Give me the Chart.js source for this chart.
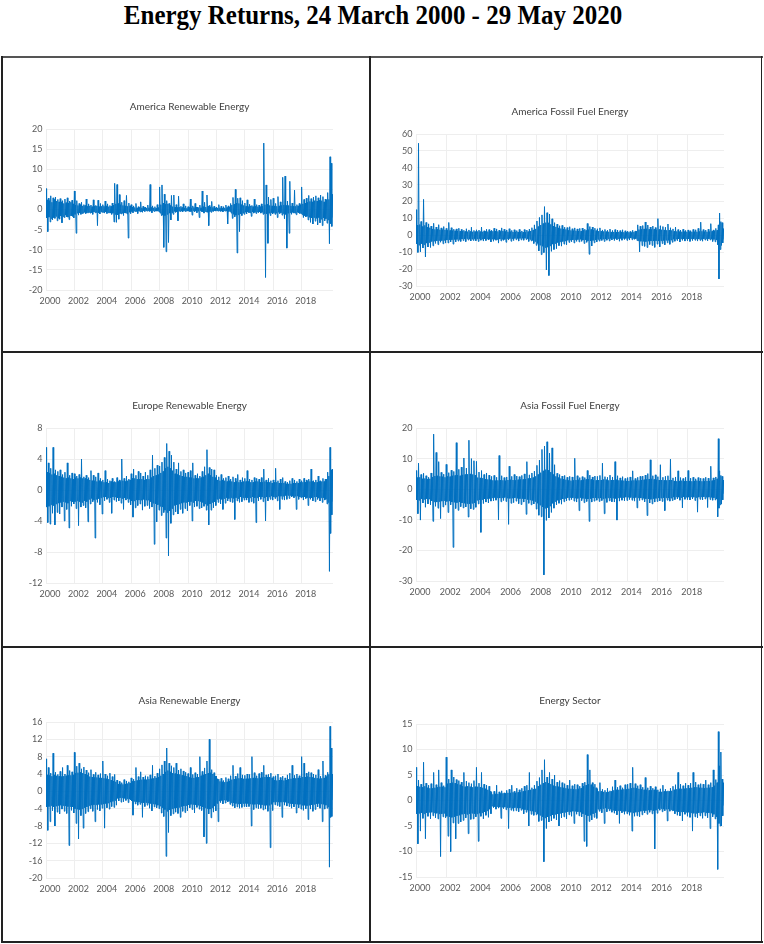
<!DOCTYPE html>
<html><head><meta charset="utf-8">
<script src="https://cdn.jsdelivr.net/npm/chart.js@4"></script>
<style>
html,body{margin:0;padding:0;background:#fff;}
body{width:764px;height:944px;position:relative;overflow:hidden;}
#mainTitle{position:absolute;left:0;top:0;width:746px;text-align:center;font-family:'Liberation Serif','Times New Roman',serif;font-weight:bold;font-size:27px;line-height:30px;color:#000;transform:scaleX(0.925);transform-origin:373px 0;white-space:nowrap;}
.panel{position:absolute;}
.panel canvas{display:block;}
.ln{position:absolute;background:#222;}
</style></head><body>
<div id="mainTitle">Energy Returns, 24 March 2000 - 29 May 2020</div>
<div class="panel" style="left:2px;top:57px"><canvas id="c1" width="368" height="295"></canvas></div>
<div class="panel" style="left:370px;top:57px"><canvas id="c2" width="392" height="295"></canvas></div>
<div class="panel" style="left:2px;top:352px"><canvas id="c3" width="368" height="295"></canvas></div>
<div class="panel" style="left:370px;top:352px"><canvas id="c4" width="392" height="295"></canvas></div>
<div class="panel" style="left:2px;top:647px"><canvas id="c5" width="368" height="295"></canvas></div>
<div class="panel" style="left:370px;top:647px"><canvas id="c6" width="392" height="295"></canvas></div>
<div class="ln" style="left:1px;top:56px;width:762px;height:1.5px;background:#555"></div>
<div class="ln" style="left:1px;top:56px;width:1.5px;height:887px"></div>
<div class="ln" style="left:760.5px;top:56px;width:1.5px;height:887px"></div>
<div class="ln" style="left:1px;top:941px;width:762px;height:1.5px"></div>
<div class="ln" style="left:369px;top:56px;width:1.5px;height:887px"></div>
<div class="ln" style="left:1px;top:351px;width:762px;height:1.5px"></div>
<div class="ln" style="left:1px;top:646px;width:762px;height:1.5px"></div>
<script>
// x axis: years since 24 March 2000, tick labels every two years
const yearTickValues = [0,2,4,6,8,10,12,14,16,18];
const yearLabels = ['2000','2002','2004','2006','2008','2010','2012','2014','2016','2018'];

// Returns (%): about 24 alternating high/low values per year
const americaRenewable = [
5.2,-2.1,2.4,-5.5,2.8,-1.9,2.2,-3.1,3.4,-2.3,1.8,-2.6,2.9,-2.0,2.5,-2.2,3.1,-1.7,2.1,-2.8,2.5,-2.2,1.9,-2.4,
2.7,-1.6,1.9,-3.3,2.2,-1.8,1.5,-2.0,2.6,-1.4,1.7,-1.8,2.9,-1.9,1.6,-2.5,2.1,-1.5,1.8,-1.6,2.3,-1.7,1.4,-2.1,
4.6,-1.2,1.1,-5.9,2.2,-0.9,1.0,-1.4,1.5,-0.8,1.2,-1.2,1.8,-1.0,0.9,-0.9,1.2,-0.7,1.0,-1.0,2.6,-0.9,0.8,-0.8,
1.4,-0.7,0.9,-0.9,1.1,-0.8,0.7,-1.2,2.4,-0.6,0.8,-0.8,1.0,-0.7,0.9,-4.0,2.3,-0.8,0.7,-1.1,1.5,-0.6,0.8,-0.7,
1.2,-0.7,0.8,-0.9,2.1,-0.6,0.9,-1.0,1.4,-0.8,0.7,-0.8,1.0,-0.9,0.8,-1.2,1.6,-0.9,1.1,-3.1,6.5,-1.2,1.4,-3.2,
6.2,-1.3,1.5,-2.4,3.7,-1.0,1.2,-1.1,1.8,-0.9,1.0,-1.5,2.2,-0.8,0.9,-0.9,3.5,-1.1,0.8,-7.1,1.6,-0.7,0.9,-1.0,
1.2,-0.5,0.6,-0.8,0.9,-0.4,0.5,-0.5,1.5,-0.5,0.4,-1.0,0.7,-0.4,0.5,-0.6,1.9,-0.5,0.4,-0.7,0.8,-0.3,0.5,-0.5,
0.6,-0.3,0.4,-0.4,1.1,-0.3,0.4,-0.5,6.2,-0.4,0.5,-0.8,0.9,-0.3,0.4,-0.5,0.7,-0.4,0.3,-0.4,1.2,-0.4,0.5,-0.6,
5.6,-0.9,1.2,-1.5,6.1,-1.4,1.6,-9.4,3.8,-1.5,1.3,-10.5,2.2,-1.2,1.4,-8.2,1.5,-0.9,1.0,-2.6,3.5,-0.8,0.7,-1.2,
3.6,-0.5,0.6,-0.7,1.2,-0.6,0.5,-2.8,3.3,-0.4,0.6,-0.5,0.8,-0.4,0.5,-0.6,1.4,-0.3,0.4,-0.5,0.9,-0.4,0.3,-0.4,
0.7,-0.4,0.5,-0.5,2.6,-0.5,0.4,-1.4,0.9,-0.3,0.5,-0.6,1.5,-0.4,0.6,-0.8,0.6,-0.4,0.5,-2.0,1.1,-0.3,0.4,-0.5,
4.6,-0.6,0.7,-0.9,1.8,-0.5,0.6,-0.6,3.6,-0.7,0.8,-4.0,1.0,-0.5,0.6,-0.7,2.0,-0.4,0.5,-0.5,0.8,-0.3,0.4,-0.4,
0.6,-0.3,0.4,-0.4,1.2,-0.3,0.4,-0.5,0.8,-0.4,0.3,-0.6,0.7,-0.3,0.4,-0.4,1.1,-0.4,0.5,-3.6,0.9,-0.5,0.6,-0.5,
1.5,-0.9,1.1,-2.2,3.0,-1.2,1.3,-1.8,5.0,-1.4,1.6,-10.8,2.8,-1.3,1.5,-5.5,2.9,-1.1,1.2,-1.5,2.2,-0.9,1.0,-1.2,
1.6,-0.7,0.8,-1.1,2.4,-0.6,0.7,-0.8,1.3,-0.8,0.9,-1.7,1.0,-0.6,0.7,-0.9,2.6,-0.7,0.8,-1.0,1.2,-0.6,0.7,-0.8,
1.1,-0.6,0.7,-0.9,1.4,-0.7,0.8,-1.2,16.5,-1.0,1.2,-16.9,6.1,-1.1,1.3,-8.4,3.1,-0.9,1.0,-1.5,2.5,-0.8,0.9,-1.1,
2.8,-0.8,0.9,-1.2,1.5,-0.9,0.8,-2.0,3.2,-0.7,0.9,-1.0,1.9,-0.8,1.0,-1.4,8.0,-1.0,1.1,-2.3,8.3,-1.2,1.0,-9.6,
2.1,-0.9,1.0,-5.9,7.0,-0.8,0.9,-1.2,1.6,-0.7,0.8,-0.9,4.8,-0.9,0.8,-1.3,1.2,-0.7,0.9,-0.8,1.5,-1.0,1.2,-1.0,
5.6,-1.3,1.4,-2.0,2.5,-1.5,1.6,-1.8,2.8,-1.7,1.8,-2.6,3.5,-1.9,2.0,-3.2,2.7,-2.1,1.9,-3.6,3.1,-2.0,2.2,-2.9,
3.4,-2.2,2.1,-3.8,2.9,-2.0,2.3,-3.3,3.6,-2.4,2.2,-4.0,3.2,-2.1,1.9,-2.8,2.6,-2.3,2.4,-3.4,4.2,-2.6,2.5,-8.5,
13.1,-3.5,11.5,-4.2,3.8,-2.0];

const americaFossil = [
15.2,-5.1,6.0,-10.1,54.5,-5.8,6.4,-9.8,8.2,-4.9,5.2,-7.5,21.3,-5.5,5.9,-12.8,7.6,-4.6,4.8,-6.9,6.8,-4.2,4.5,-7.2,
5.5,-3.6,3.8,-6.2,7.1,-3.4,3.5,-4.8,4.9,-3.2,3.6,-5.5,6.3,-3.0,3.3,-4.1,4.4,-3.1,3.4,-5.0,5.2,-2.9,3.2,-4.6,
4.1,-2.8,3.0,-4.5,7.6,-2.7,2.9,-3.8,4.5,-2.6,2.8,-5.2,3.6,-2.5,2.7,-3.9,3.8,-2.4,2.6,-3.4,4.2,-2.5,2.5,-3.6,
3.5,-2.2,2.4,-3.1,3.0,-2.1,2.3,-3.7,3.9,-2.0,2.2,-2.8,3.2,-2.1,2.3,-3.3,4.8,-2.2,2.1,-3.0,2.9,-2.0,2.2,-3.2,
3.3,-2.1,2.3,-3.6,3.1,-2.0,2.2,-2.9,4.9,-2.2,2.1,-3.4,2.7,-2.0,2.3,-3.1,3.6,-2.1,2.2,-2.8,3.4,-2.3,2.4,-3.9,
3.0,-2.2,2.4,-3.5,4.2,-2.3,2.5,-2.9,3.8,-2.4,2.3,-4.6,3.1,-2.2,2.4,-3.3,4.4,-2.3,2.5,-3.0,3.6,-2.4,2.3,-4.1,
3.2,-2.0,2.1,-2.8,3.9,-1.9,2.2,-3.5,2.9,-2.0,2.0,-3.1,3.3,-1.8,2.1,-2.6,2.8,-1.9,2.0,-3.4,3.5,-1.8,1.9,-2.7,
2.6,-1.8,1.9,-2.9,3.4,-1.7,1.8,-2.5,3.1,-2.0,2.2,-3.6,3.7,-2.4,2.6,-3.3,4.5,-3.0,3.2,-4.8,6.2,-3.6,3.8,-5.9,
8.5,-4.8,5.2,-9.2,10.6,-5.8,6.1,-11.4,12.1,-6.5,7.0,-10.2,17.0,-7.2,7.5,-20.5,13.4,-7.0,7.4,-23.8,12.6,-6.2,6.5,-9.5,
9.8,-5.2,5.5,-8.4,7.5,-4.8,5.0,-7.9,6.6,-4.2,4.4,-6.1,5.7,-3.8,4.0,-6.4,5.9,-3.6,3.8,-5.2,4.8,-3.3,3.5,-5.6,
4.6,-2.9,3.0,-4.2,5.1,-2.8,2.9,-3.8,3.9,-2.7,2.8,-4.5,4.4,-2.6,2.7,-3.6,3.8,-2.5,2.6,-3.9,4.1,-2.4,2.5,-3.5,
4.3,-2.8,3.0,-4.8,3.6,-2.7,2.9,-4.1,7.0,-3.2,3.4,-11.2,5.2,-3.3,3.5,-6.3,4.9,-3.0,3.1,-4.4,4.2,-2.7,2.8,-3.8,
3.9,-2.4,2.5,-3.4,4.4,-2.3,2.4,-3.0,3.2,-2.2,2.3,-3.6,3.5,-2.1,2.2,-2.9,3.0,-2.0,2.1,-3.3,3.7,-1.9,2.0,-2.7,
2.9,-1.9,2.0,-3.1,3.4,-1.8,1.9,-2.6,3.1,-1.9,2.0,-3.5,2.8,-1.8,1.9,-2.9,3.3,-1.7,1.8,-2.5,2.7,-1.8,1.9,-3.0,
2.5,-1.7,1.8,-2.8,2.3,-1.6,1.7,-2.6,3.0,-1.8,1.9,-2.4,2.6,-2.0,2.4,-3.1,6.2,-3.2,3.4,-9.8,5.4,-3.5,3.6,-6.1,
5.8,-3.6,3.8,-6.5,7.9,-3.7,3.9,-7.2,6.1,-3.5,3.6,-5.4,4.9,-3.3,3.5,-6.0,5.5,-3.4,3.6,-7.1,4.6,-3.2,3.3,-5.2,
9.9,-3.4,3.5,-6.8,5.7,-3.2,3.3,-4.9,5.2,-3.1,3.2,-5.6,4.8,-2.9,3.0,-4.4,6.7,-3.0,3.1,-5.3,4.5,-2.8,2.9,-4.1,
3.8,-2.3,2.4,-3.5,4.9,-2.2,2.3,-3.2,3.4,-2.1,2.2,-3.9,3.1,-2.0,2.1,-3.0,3.6,-2.1,2.2,-3.4,2.9,-2.0,2.1,-3.2,
3.2,-2.1,2.2,-3.6,2.8,-2.0,2.1,-3.1,3.5,-2.1,2.2,-2.9,3.3,-2.0,2.1,-3.4,4.1,-2.2,2.3,-3.0,7.8,-2.3,2.4,-3.5,
3.4,-2.1,2.2,-2.8,3.1,-2.0,2.1,-3.3,3.6,-2.1,2.2,-2.7,6.9,-2.3,2.4,-3.6,3.2,-2.4,2.6,-3.8,4.1,-2.8,3.0,-5.5,
6.2,-25.8,13.2,-8.4,8.1,-6.0,7.5,-4.5,4.0,-2.5];

const europeRenewable = [
5.5,-2.2,2.3,-4.2,3.5,-2.1,2.2,-4.4,2.8,-1.9,2.0,-3.0,5.5,-2.0,2.1,-4.5,2.6,-1.8,1.9,-2.9,2.4,-1.7,1.8,-3.1,
2.6,-1.6,1.7,-2.2,2.0,-1.5,1.6,-4.0,2.3,-1.6,1.5,-2.5,3.5,-1.7,1.6,-4.9,1.9,-1.4,1.5,-2.1,2.2,-1.5,1.4,-1.8,
2.1,-1.5,1.6,-2.4,1.8,-1.4,1.5,-4.6,2.0,-1.5,1.6,-2.2,4.0,-1.6,1.5,-2.0,1.7,-1.4,1.5,-2.3,1.9,-1.5,1.4,-4.1,
1.6,-1.2,1.3,-1.8,2.5,-1.1,1.2,-1.5,1.9,-1.3,1.2,-6.2,1.7,-1.2,1.1,-1.6,2.2,-1.1,1.2,-1.9,1.5,-1.0,1.1,-3.1,
1.3,-0.9,1.0,-1.4,2.5,-0.9,1.0,-1.2,1.4,-1.0,0.9,-1.6,1.2,-1.0,1.1,-3.0,1.5,-0.9,1.0,-1.3,1.1,-0.9,1.0,-1.5,
1.6,-1.0,1.1,-1.4,1.3,-1.0,1.1,-1.7,4.0,-1.1,1.2,-2.5,1.5,-1.0,1.1,-1.3,1.8,-1.1,1.2,-1.6,1.4,-1.2,1.3,-1.9,
2.1,-1.4,1.5,-3.5,2.7,-1.4,1.5,-2.3,1.9,-1.3,1.4,-2.0,2.4,-1.3,1.4,-1.8,2.2,-1.3,1.4,-2.6,1.8,-1.2,1.3,-2.1,
2.3,-1.3,1.4,-2.0,1.9,-1.3,1.4,-2.4,2.6,-1.5,1.6,-2.2,4.5,-1.7,1.8,-7.0,2.8,-1.8,1.9,-4.1,3.2,-1.9,2.0,-2.6,
3.1,-2.1,2.2,-3.3,3.6,-2.2,2.4,-2.9,4.2,-2.6,2.8,-6.2,6.0,-2.9,3.0,-8.5,5.0,-2.7,2.8,-4.3,4.5,-2.4,2.5,-3.2,
3.6,-2.0,2.1,-2.8,2.7,-1.9,2.0,-3.1,3.5,-1.8,1.9,-2.5,2.4,-1.7,1.8,-3.0,2.6,-1.6,1.7,-2.4,2.2,-1.6,1.7,-2.7,
2.3,-1.5,1.6,-2.0,2.5,-1.5,1.6,-4.0,3.5,-1.6,1.5,-2.2,1.9,-1.4,1.5,-2.1,2.1,-1.4,1.5,-2.4,1.8,-1.5,1.6,-2.3,
2.4,-1.6,1.7,-2.1,3.0,-1.8,1.9,-2.6,5.2,-2.0,2.1,-4.5,2.9,-1.8,1.9,-2.6,2.7,-1.6,1.7,-2.3,2.6,-1.5,1.6,-2.0,
1.9,-1.2,1.3,-1.6,1.7,-1.1,1.2,-1.8,2.0,-1.2,1.3,-2.5,1.5,-1.1,1.2,-1.7,1.6,-1.0,1.1,-1.4,1.8,-1.1,1.2,-1.5,
1.4,-1.0,1.1,-1.6,1.7,-1.1,1.0,-3.8,1.5,-1.0,1.1,-1.4,2.0,-1.1,1.0,-1.6,1.3,-0.9,1.0,-1.5,1.6,-1.0,1.1,-1.3,
1.5,-1.0,1.1,-1.3,2.5,-1.0,1.1,-1.6,1.4,-1.0,1.0,-1.5,1.3,-0.9,1.0,-1.7,1.6,-1.0,1.1,-4.2,1.5,-1.0,1.1,-1.4,
1.4,-0.9,1.0,-1.2,1.6,-0.9,1.0,-1.5,2.7,-1.0,1.1,-4.0,1.3,-0.9,1.0,-1.4,1.5,-0.9,1.0,-1.2,1.2,-0.8,0.9,-1.3,
1.3,-0.9,1.0,-1.1,2.8,-0.9,1.0,-1.4,1.2,-0.8,0.9,-2.5,1.4,-0.8,0.9,-1.2,1.6,-0.8,0.9,-1.3,1.1,-0.7,0.8,-1.2,
1.0,-0.7,0.8,-1.1,1.2,-0.7,0.8,-0.9,1.5,-0.8,0.9,-1.0,1.3,-0.8,0.9,-2.5,1.1,-0.8,0.9,-1.2,1.4,-0.9,1.0,-1.0,
1.2,-0.9,1.0,-1.3,1.5,-0.9,1.0,-1.1,1.3,-1.0,1.1,-2.0,1.4,-1.0,1.1,-1.2,2.7,-1.0,1.1,-1.4,1.2,-0.9,1.0,-1.5,
1.3,-0.9,1.0,-1.2,1.8,-1.0,1.1,-1.4,1.2,-1.0,1.1,-1.6,1.5,-1.0,1.1,-1.3,1.4,-1.2,1.4,-1.8,2.3,-1.6,1.8,-10.5,
5.5,-5.6,2.6,-3.2,2.7,-1.5];

const asiaFossil = [
6.1,-3.5,3.8,-8.0,8.5,-3.6,3.9,-10.1,4.8,-3.2,3.4,-4.5,5.2,-3.3,3.5,-5.9,4.4,-3.1,3.3,-4.8,3.9,-3.2,3.4,-5.1,
5.3,-3.8,4.0,-10.5,18.0,-4.1,4.3,-5.6,12.0,-4.2,4.4,-6.2,9.0,-4.0,4.2,-9.6,5.5,-3.9,4.1,-5.8,4.9,-3.7,3.9,-5.2,
8.1,-4.0,4.2,-7.6,5.4,-3.9,4.1,-5.1,6.2,-4.2,4.4,-19.0,5.8,-4.3,4.5,-6.3,15.2,-4.4,4.6,-6.9,6.5,-4.2,4.4,-5.7,
7.2,-4.5,4.7,-6.1,10.2,-4.6,4.8,-5.8,6.9,-4.7,4.9,-9.1,16.0,-4.8,5.0,-6.4,10.0,-4.6,4.8,-6.6,9.3,-4.5,4.6,-5.9,
9.1,-3.6,3.8,-4.8,5.6,-3.5,3.7,-14.1,6.1,-3.4,3.6,-4.7,4.8,-3.2,3.3,-4.2,5.3,-3.1,3.2,-4.5,4.6,-3.0,3.1,-3.9,
4.2,-2.8,2.9,-3.8,4.5,-2.7,2.8,-3.6,3.9,-2.8,2.9,-10.0,11.0,-2.9,3.0,-4.1,4.4,-2.8,2.9,-3.7,3.8,-2.7,2.8,-4.0,
4.0,-2.9,3.0,-11.5,7.5,-3.0,3.1,-4.6,4.2,-2.9,3.0,-4.4,4.8,-2.8,2.9,-3.9,4.3,-3.0,3.1,-4.7,4.1,-3.1,3.2,-5.0,
4.5,-3.1,3.2,-4.2,5.0,-3.2,3.3,-8.2,9.0,-3.4,3.5,-4.6,4.7,-3.5,3.6,-5.1,5.3,-3.7,3.8,-4.8,5.9,-4.0,4.2,-6.5,
7.8,-4.6,4.8,-8.5,9.5,-5.2,5.4,-9.0,13.0,-5.8,6.0,-28.0,14.1,-6.2,6.4,-10.2,15.5,-6.0,6.2,-9.4,11.8,-5.5,5.6,-7.6,
13.5,-4.6,4.8,-6.2,8.0,-4.0,4.2,-5.1,5.2,-3.6,3.8,-4.6,4.8,-3.4,3.5,-4.9,4.3,-3.2,3.3,-4.1,4.5,-3.0,3.1,-3.8,
3.9,-2.8,2.9,-3.6,4.2,-2.7,2.8,-3.4,4.0,-2.8,2.9,-3.9,10.1,-2.9,3.0,-4.2,4.4,-3.0,3.1,-7.0,3.8,-2.8,2.9,-3.7,
4.1,-3.0,3.1,-4.4,3.8,-3.1,3.2,-4.0,6.1,-3.2,3.3,-10.5,4.6,-3.1,3.2,-4.2,4.0,-2.9,3.0,-3.9,4.3,-2.8,2.9,-3.6,
4.2,-2.9,3.0,-4.0,4.5,-2.9,3.0,-3.7,8.5,-3.1,3.2,-8.0,4.1,-3.0,3.1,-4.3,3.9,-2.8,2.9,-3.8,4.6,-2.9,3.0,-4.1,
4.0,-2.9,3.0,-4.2,9.0,-3.0,3.1,-10.1,4.4,-2.8,2.9,-3.9,3.7,-2.7,2.8,-3.6,4.1,-2.7,2.8,-3.8,3.5,-2.6,2.7,-3.7,
3.8,-2.6,2.7,-3.4,4.0,-2.7,2.8,-3.6,6.0,-2.8,2.9,-3.9,3.5,-2.7,2.8,-6.1,3.9,-2.8,2.9,-3.7,4.2,-2.9,3.0,-3.5,
4.3,-3.0,3.1,-4.1,4.6,-3.1,3.2,-8.6,5.1,-3.2,3.3,-4.5,9.6,-3.3,3.4,-4.8,4.4,-3.1,3.2,-4.2,4.7,-3.0,3.1,-4.0,
4.1,-2.9,3.0,-3.8,8.0,-2.9,3.0,-4.0,3.9,-2.8,2.9,-7.0,4.2,-2.8,2.9,-3.6,4.4,-2.9,3.0,-3.9,9.8,-2.9,3.0,-3.7,
3.7,-2.6,2.7,-3.4,4.0,-2.5,2.6,-3.2,6.0,-2.6,2.7,-3.6,3.8,-2.7,2.8,-6.1,3.5,-2.5,2.6,-3.3,3.9,-2.6,2.7,-3.4,
6.1,-2.6,2.7,-3.5,3.6,-2.5,2.6,-3.2,3.9,-2.6,2.7,-3.7,3.4,-2.7,2.8,-7.5,3.8,-2.6,2.7,-3.3,3.6,-2.5,2.6,-3.5,
3.5,-2.5,2.6,-3.2,3.9,-2.6,2.7,-6.0,3.6,-2.6,2.7,-3.4,7.5,-2.7,2.8,-3.6,3.7,-2.8,3.0,-3.5,4.0,-3.2,3.4,-9.0,
16.5,-6.2,6.0,-5.1,4.5,-4.8,4.2,-3.5,3.0,-1.5];

const asiaRenewable = [
7.5,-3.6,3.8,-9.0,5.5,-3.5,3.7,-7.0,4.2,-3.3,3.5,-4.5,8.8,-3.6,3.8,-8.0,4.4,-3.4,3.6,-4.8,3.9,-3.3,3.5,-5.2,
4.6,-3.2,3.4,-4.1,5.5,-3.3,3.5,-4.6,4.0,-3.4,3.6,-5.1,6.0,-3.5,3.7,-12.5,4.8,-3.5,3.7,-4.4,4.5,-3.6,3.8,-5.0,
9.0,-4.0,4.2,-7.4,5.8,-4.1,4.3,-11.0,6.5,-4.2,4.4,-5.6,5.2,-4.0,4.2,-8.5,5.6,-3.8,4.0,-5.1,4.9,-3.6,3.8,-4.7,
4.3,-3.3,3.4,-4.0,5.0,-3.2,3.3,-4.6,3.9,-3.1,3.2,-7.0,4.4,-3.1,3.2,-4.2,3.8,-3.0,3.1,-4.5,4.1,-3.0,3.1,-3.9,
7.0,-2.9,3.0,-8.5,4.0,-2.8,2.9,-3.8,3.6,-2.7,2.8,-4.1,4.2,-2.5,2.6,-3.5,3.4,-2.3,2.4,-3.7,3.9,-2.1,2.2,-3.2,
2.6,-1.6,1.7,-2.2,2.3,-1.5,1.6,-2.5,2.0,-1.5,1.6,-2.4,2.7,-1.6,1.7,-2.1,2.4,-1.7,1.8,-2.6,2.2,-1.8,1.9,-2.0,
3.1,-2.2,2.3,-5.5,2.8,-2.3,2.4,-2.9,5.5,-2.4,2.5,-3.2,3.4,-2.5,2.6,-3.0,4.5,-2.6,2.7,-6.0,3.3,-2.6,2.7,-3.5,
3.6,-2.6,2.7,-3.2,3.4,-2.7,2.8,-3.9,3.8,-2.8,2.9,-4.5,6.0,-2.9,3.0,-3.6,3.5,-3.0,3.1,-3.8,4.2,-3.2,3.3,-4.0,
5.2,-3.4,3.6,-5.0,6.1,-3.8,4.0,-5.8,7.0,-4.2,4.5,-15.0,10.0,-4.6,4.8,-9.5,6.5,-4.3,4.5,-5.6,5.9,-4.0,4.2,-5.2,
5.5,-3.9,4.1,-4.8,6.5,-3.8,4.0,-5.1,4.9,-3.7,3.9,-6.0,5.2,-3.5,3.7,-4.6,4.7,-3.4,3.6,-4.9,4.4,-3.3,3.5,-4.5,
4.1,-3.1,3.2,-3.8,5.5,-3.0,3.1,-4.2,3.9,-3.0,3.1,-5.0,4.3,-3.1,3.2,-3.7,4.0,-3.2,3.3,-4.1,8.0,-3.4,3.6,-4.4,
4.6,-3.6,3.8,-10.5,5.4,-3.8,4.0,-12.0,7.0,-4.0,4.2,-5.2,12.0,-4.1,4.3,-6.1,5.0,-3.8,4.0,-4.8,4.3,-3.4,3.5,-4.5,
3.5,-2.8,2.9,-7.0,2.8,-2.2,2.3,-2.6,3.0,-2.1,2.2,-2.9,2.5,-2.0,2.1,-2.7,3.2,-2.1,2.2,-2.4,2.9,-2.3,2.4,-3.0,
3.6,-2.6,2.7,-3.4,6.0,-2.7,2.8,-3.8,3.5,-2.8,2.9,-3.6,4.1,-2.9,3.0,-3.9,5.5,-2.9,3.0,-3.7,3.8,-2.8,2.9,-3.5,
3.7,-2.8,2.9,-3.6,4.0,-2.8,2.9,-3.5,3.9,-2.9,3.0,-8.0,8.0,-3.0,3.1,-4.2,4.3,-3.0,3.1,-3.8,3.6,-2.9,3.0,-4.0,
4.1,-3.0,3.1,-3.9,4.4,-3.1,3.2,-4.3,6.0,-3.2,3.3,-4.1,3.8,-3.2,3.3,-4.6,3.9,-3.2,3.3,-13.0,4.2,-3.0,3.1,-4.4,
3.4,-2.5,2.6,-3.1,3.6,-2.4,2.5,-3.3,4.0,-2.5,2.6,-3.5,3.2,-2.5,2.6,-6.0,3.5,-2.4,2.5,-3.2,3.1,-2.5,2.6,-3.4,
3.8,-2.7,2.8,-3.5,4.2,-2.8,2.9,-3.9,6.0,-2.9,3.0,-3.6,3.7,-2.9,3.0,-5.0,4.0,-3.0,3.1,-3.8,3.6,-3.0,3.1,-4.1,
8.0,-3.2,3.3,-4.4,6.5,-3.2,3.3,-4.0,4.2,-3.3,3.4,-6.5,4.5,-3.2,3.3,-4.1,4.3,-3.1,3.2,-4.6,4.0,-3.0,3.1,-4.2,
3.8,-2.9,3.0,-3.6,5.0,-2.8,2.9,-3.9,3.5,-2.9,3.0,-7.0,7.0,-3.0,3.1,-4.1,3.7,-3.2,3.4,-3.9,4.4,-3.6,3.9,-17.5,
15.0,-6.0,10.0,-5.8,4.0,-2.0];

const energySector = [
6.5,-2.6,2.8,-8.5,4.0,-2.5,2.7,-6.0,3.2,-2.4,2.6,-3.5,7.5,-2.6,2.8,-7.5,3.4,-2.4,2.5,-3.1,3.0,-2.3,2.4,-3.6,
3.3,-2.3,2.4,-3.0,5.5,-2.4,2.5,-3.4,3.1,-2.5,2.6,-3.6,6.0,-2.6,2.7,-11.0,3.5,-2.6,2.7,-3.2,2.9,-2.5,2.6,-3.4,
8.5,-3.1,3.3,-7.0,4.2,-3.2,3.4,-10.0,6.0,-3.3,3.5,-4.4,4.6,-3.2,3.4,-7.5,4.1,-3.0,3.2,-4.5,3.9,-2.9,3.1,-4.2,
3.6,-2.7,2.8,-3.9,5.5,-2.6,2.7,-3.4,3.8,-2.7,2.8,-6.5,3.5,-2.6,2.7,-3.7,3.3,-2.5,2.6,-3.6,3.9,-2.6,2.7,-3.2,
6.5,-2.6,2.7,-8.0,3.4,-2.5,2.6,-3.1,5.5,-2.4,2.5,-3.6,3.2,-2.2,2.3,-2.9,3.0,-2.0,2.1,-3.3,2.8,-1.7,1.8,-2.6,
1.6,-1.1,1.2,-1.4,1.8,-1.2,1.3,-1.7,3.0,-1.2,1.3,-1.5,1.7,-1.3,1.4,-3.5,1.9,-1.3,1.4,-1.6,1.5,-1.3,1.4,-1.8,
2.0,-1.4,1.5,-5.5,2.2,-1.4,1.5,-1.9,3.0,-1.5,1.6,-2.1,1.8,-1.4,1.5,-2.0,2.4,-1.5,1.6,-2.2,2.1,-1.5,1.6,-1.9,
2.4,-1.7,1.8,-2.6,2.8,-1.8,1.9,-2.3,3.0,-1.9,2.0,-5.0,5.5,-2.0,2.1,-2.7,2.5,-2.1,2.2,-2.9,3.0,-2.2,2.3,-2.8,
3.8,-2.6,2.8,-4.1,4.5,-2.9,3.1,-3.9,6.0,-3.2,3.4,-12.0,8.0,-3.4,3.6,-5.5,4.6,-3.2,3.4,-4.2,5.5,-3.0,3.2,-4.0,
4.2,-2.8,2.9,-3.5,5.0,-2.7,2.8,-3.8,3.6,-2.6,2.7,-5.0,3.9,-2.5,2.6,-3.4,3.5,-2.4,2.5,-3.2,3.3,-2.3,2.4,-3.6,
3.0,-2.2,2.3,-2.8,4.0,-2.2,2.3,-3.1,2.9,-2.1,2.2,-4.5,3.2,-2.1,2.2,-2.7,3.1,-2.2,2.3,-3.0,2.8,-2.3,2.4,-3.2,
3.4,-2.6,2.8,-8.0,3.6,-2.8,3.0,-9.0,9.0,-3.0,3.2,-4.1,6.0,-2.9,3.1,-3.8,3.5,-2.6,2.7,-3.3,3.2,-2.4,2.5,-3.5,
2.3,-1.7,1.8,-2.1,3.5,-1.7,1.8,-2.4,2.2,-1.6,1.7,-4.5,2.0,-1.5,1.6,-2.2,2.4,-1.6,1.7,-2.0,1.9,-1.7,1.8,-2.3,
2.7,-1.9,2.0,-2.5,4.0,-2.0,2.1,-2.8,2.6,-2.0,2.1,-4.5,2.9,-2.0,2.1,-2.4,2.5,-2.1,2.2,-2.7,3.1,-2.1,2.2,-2.6,
3.2,-2.2,2.3,-2.9,3.4,-2.3,2.4,-6.0,6.5,-2.4,2.5,-3.1,3.3,-2.3,2.4,-3.0,2.9,-2.2,2.3,-3.2,3.1,-2.1,2.2,-2.8,
2.6,-2.0,2.1,-2.4,4.5,-2.0,2.1,-2.7,2.5,-1.9,2.0,-2.3,2.8,-1.9,2.0,-2.6,2.4,-2.0,2.1,-9.5,2.7,-1.9,2.0,-2.5,
2.1,-1.6,1.7,-1.9,2.3,-1.6,1.7,-2.2,3.0,-1.7,1.8,-2.0,2.2,-1.7,1.8,-4.0,1.9,-1.7,1.8,-2.1,2.4,-1.8,1.9,-2.0,
2.8,-2.0,2.1,-2.6,3.1,-2.1,2.2,-2.9,5.5,-2.2,2.3,-3.0,3.2,-2.2,2.3,-4.0,2.9,-2.2,2.3,-2.7,3.4,-2.3,2.4,-3.1,
3.0,-2.3,2.4,-3.3,3.4,-2.4,2.5,-6.0,5.5,-2.5,2.6,-3.2,3.6,-2.5,2.6,-3.4,3.1,-2.4,2.5,-3.0,3.3,-2.4,2.5,-3.5,
3.2,-2.3,2.4,-3.0,4.0,-2.4,2.5,-3.4,3.1,-2.4,2.5,-5.5,3.5,-2.5,2.6,-3.2,6.0,-2.7,2.9,-3.6,4.1,-3.2,3.5,-13.5,
13.5,-4.5,6.8,-5.0,9.5,-5.0,4.2,-3.0,3.5,-1.0];

const panelTitles = ['America Renewable Energy','America Fossil Fuel Energy','Europe Renewable Energy','Asia Fossil Fuel Energy','Asia Renewable Energy','Energy Sector'];
const yMins = [-20,-30,-12,-30,-20,-15];
const yMaxs = [20,60,8,20,16,15];
const ySteps = [5,10,4,10,4,5];

// layout of each panel (canvas-relative pixels)
const layouts = [
  {id:'c1', span:20.2, titleY:50, plotTop:72, plotBottom:233, yW:44, padR:37},
  {id:'c2', span:20.4, titleY:55, plotTop:77, plotBottom:229, yW:46, padR:38},
  {id:'c3', span:20.2, titleY:54, plotTop:76, plotBottom:231, yW:44, padR:37},
  {id:'c4', span:20.4, titleY:54, plotTop:76, plotBottom:229, yW:46, padR:38},
  {id:'c5', span:20.2, titleY:54, plotTop:75, plotBottom:231, yW:44, padR:37},
  {id:'c6', span:20.4, titleY:54, plotTop:77, plotBottom:230, yW:46, padR:38}
];
const series = [americaRenewable, americaFossil, europeRenewable, asiaFossil, asiaRenewable, energySector];

const TITLE_SIZE = 10, TICK_SIZE = 9, XAXIS_H = 18, CANVAS_H = 295;
Chart.defaults.font.family = 'Lato, "Open Sans", sans-serif';

series.forEach((vals, k) => {
  const L = layouts[k];
  const pts = vals.map((v, i) => ({x: i * L.span / (vals.length - 1), y: v}));
  const lh = TITLE_SIZE * 1.2;
  new Chart(document.getElementById(L.id), {
    type: 'line',
    data: {datasets: [{data: pts, borderColor: '#0070C0', borderWidth: 1, pointRadius: 0, tension: 0, fill: false}]},
    options: {
      responsive: false, animation: false, devicePixelRatio: 1,
      layout: {padding: {left: 0, right: L.padR, top: 0, bottom: CANVAS_H - L.plotBottom - XAXIS_H}},
      plugins: {
        legend: {display: false}, tooltip: {enabled: false},
        title: {display: true, fullSize: false, text: panelTitles[k], color: '#404040',
          font: {size: TITLE_SIZE, weight: 'normal'},
          padding: {top: L.titleY - lh / 2, bottom: L.plotTop - L.titleY - lh / 2}}
      },
      scales: {
        x: {
          type: 'linear', min: 0, max: L.span,
          afterFit: s => { s.height = XAXIS_H; },
          afterBuildTicks: s => { s.ticks = yearTickValues.map(v => ({value: v})); },
          grid: {color: '#eeeeee', drawTicks: false}, border: {display: false},
          ticks: {padding: 5.5, labelOffset: 4, color: '#595959', font: {size: TICK_SIZE},
            maxRotation: 0, autoSkip: false,
            callback: v => yearLabels[yearTickValues.indexOf(v)]}
        },
        y: {
          min: yMins[k], max: yMaxs[k],
          afterFit: s => { s.width = L.yW; },
          grid: {color: '#eeeeee', drawTicks: false}, border: {display: false},
          ticks: {stepSize: ySteps[k], padding: 3.5, color: '#595959', font: {size: TICK_SIZE}}
        }
      }
    }
  });
});
</script>
</body></html>
